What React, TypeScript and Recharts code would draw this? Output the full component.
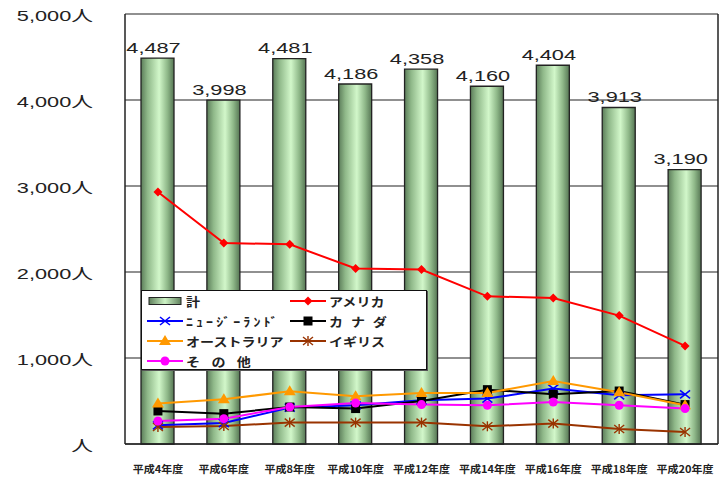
import { ComposedChart, Bar, Line, XAxis, YAxis, CartesianGrid, LabelList } from 'recharts';

const years = ['平成4年度', '平成6年度', '平成8年度', '平成10年度', '平成12年度', '平成14年度', '平成16年度', '平成18年度', '平成20年度'];
const total = [4487, 3998, 4481, 4186, 4358, 4160, 4404, 3913, 3190];
const america = [2930, 2337, 2322, 2040, 2028, 1717, 1698, 1493, 1140];
const newZealand = [217, 244, 423, 450, 508, 528, 644, 566, 578];
const canada = [384, 353, 430, 412, 500, 632, 578, 616, 458];
const australia = [470, 520, 613, 555, 593, 593, 733, 601, 450];
const uk = [198, 209, 249, 249, 249, 206, 237, 174, 140];
const others = [267, 295, 430, 477, 458, 450, 488, 450, 412];
const yTicks = [0, 1000, 2000, 3000, 4000, 5000];
const boundaryTicks = [1, 2, 3, 4, 5, 6, 7, 8];

const data = years.map((year, i) => ({
  year,
  total: total[i],
  america: america[i],
  newZealand: newZealand[i],
  canada: canada[i],
  australia: australia[i],
  uk: uk[i],
  others: others[i],
}));

const FONT = "'Liberation Sans', Arial, 'Noto Sans CJK JP', sans-serif";
const JP = "'Noto Sans CJK JP', 'Liberation Sans', sans-serif";

type Shape = 'bar' | 'diamond' | 'x' | 'square' | 'triangle' | 'star' | 'circle';

// draws one marker centred on (cx, cy)
const marker = (shape: Shape, cx: number, cy: number, color: string, key?: any) => {
  switch (shape) {
    case 'diamond':
      return <polygon key={key} points={`${cx},${cy - 4.5} ${cx + 4.5},${cy} ${cx},${cy + 4.5} ${cx - 4.5},${cy}`} fill={color} />;
    case 'x':
      return (
        <g key={key} stroke={color} strokeWidth={1.6}>
          <line x1={cx - 5} y1={cy - 4} x2={cx + 5} y2={cy + 4} />
          <line x1={cx - 5} y1={cy + 4} x2={cx + 5} y2={cy - 4} />
        </g>
      );
    case 'square':
      return <rect key={key} x={cx - 4.5} y={cy - 4.5} width={9} height={9} fill={color} />;
    case 'triangle':
      return <polygon key={key} points={`${cx},${cy - 6} ${cx + 6},${cy + 4} ${cx - 6},${cy + 4}`} fill={color} />;
    case 'star':
      return (
        <g key={key} stroke={color} strokeWidth={1.4}>
          <line x1={cx - 5} y1={cy - 4} x2={cx + 5} y2={cy + 4} />
          <line x1={cx - 5} y1={cy + 4} x2={cx + 5} y2={cy - 4} />
          <line x1={cx} y1={cy - 5} x2={cx} y2={cy + 5} />
        </g>
      );
    case 'circle':
      return <circle key={key} cx={cx} cy={cy} r={4.5} fill={color} />;
    default:
      return null;
  }
};

const series: { key: string; name: string; color: string; shape: Shape; spacing?: number }[] = [
  { key: 'total', name: '計', color: '#222', shape: 'bar' },
  { key: 'america', name: 'アメリカ', color: '#ff0000', shape: 'diamond' },
  { key: 'newZealand', name: 'ﾆｭｰｼﾞｰﾗﾝﾄﾞ', color: '#0000ff', shape: 'x', spacing: 2.6 },
  { key: 'canada', name: 'カ ナ ダ', color: '#000000', shape: 'square', spacing: 2 },
  { key: 'australia', name: 'オーストラリア', color: '#ff9900', shape: 'triangle' },
  { key: 'uk', name: 'イギリス', color: '#993300', shape: 'star' },
  { key: 'others', name: 'そ の 他', color: '#ff00ff', shape: 'circle', spacing: 3.5 },
];

const YTick = (props: any) => {
  const { x, y, payload } = props;
  const v = payload.value as number;
  const label = v === 0 ? '人' : `${v.toLocaleString('en-US')}人`;
  return (
    <text transform={`translate(${x},${y}) scale(1.45,1)`} textAnchor="end" dy="0.45em" fontSize={15} fill="#222" fontFamily={FONT}>
      {label}
    </text>
  );
};

const XTick = (props: any) => {
  const { x, y, payload } = props;
  return (
    <text transform={`translate(${x},${y}) scale(1.1,1)`} textAnchor="middle" dy={7} fontSize={10} fontWeight="bold" fill="#222" fontFamily={JP}>
      {payload.value}
    </text>
  );
};

const BarLabel = (props: any) => {
  const { x, y, width, value } = props;
  return (
    <text transform={`translate(${x + width / 2 - 4},${y - 5.5}) scale(1.45,1)`} textAnchor="middle" fontSize={15} fill="#222" fontFamily={FONT}>
      {Number(value).toLocaleString('en-US')}
    </text>
  );
};

const LegendIcon = ({ shape, color }: { shape: Shape; color: string }) => (
  <svg width={36} height={14} style={{ display: 'block' }}>
    {shape === 'bar' ? (
      <rect x={2} y={3.5} width={32} height={7} fill="url(#legendGrad)" stroke="#222" strokeWidth={1} />
    ) : (
      <>
        <line x1={0} y1={7} x2={36} y2={7} stroke={color} strokeWidth={2} />
        {marker(shape, 18, 7, color)}
      </>
    )}
    <defs>
      <linearGradient id="legendGrad" x1="0" y1="0" x2="1" y2="0">
        <stop offset="0%" stopColor="#5f805c" />
        <stop offset="50%" stopColor="#cdf3c5" />
        <stop offset="100%" stopColor="#5f805c" />
      </linearGradient>
    </defs>
  </svg>
);

export default function App() {
  return (
    <div style={{ position: 'absolute', left: 0, top: 0, width: 727, height: 479, background: '#fff' }}>
      <ComposedChart width={727} height={479} data={data} margin={{ top: 14, right: 8, bottom: 34, left: 0 }}>
        <defs>
          <linearGradient id="barGrad" x1="0" y1="0" x2="1" y2="0">
            <stop offset="0%" stopColor="#5c7d5a" />
            <stop offset="20%" stopColor="#8fb889" />
            <stop offset="55%" stopColor="#d2f7ca" />
            <stop offset="80%" stopColor="#8fb889" />
            <stop offset="100%" stopColor="#567654" />
          </linearGradient>
        </defs>
        <CartesianGrid xAxisId="c" yAxisId="l" vertical={false} stroke="#222" strokeWidth={1.2} />
        <XAxis
          xAxisId="c"
          dataKey="year"
          height={1}
          interval={0}
          tickSize={0}
          tickMargin={22}
          tickLine={false}
          axisLine={{ stroke: '#222', strokeWidth: 1.5 }}
          tick={<XTick />}
        />
        <XAxis
          xAxisId="b"
          type="number"
          domain={[0, 9]}
          ticks={boundaryTicks}
          allowDataOverflow
          height={1}
          mirror
          axisLine={false}
          tick={false}
          tickSize={4}
          tickLine={{ stroke: '#222', strokeWidth: 1.2 }}
        />
        <YAxis
          yAxisId="l"
          width={125}
          domain={[0, 5000]}
          ticks={yTicks}
          tickSize={0}
          tickMargin={32}
          tickLine={false}
          axisLine={{ stroke: '#222', strokeWidth: 1.5 }}
          tick={<YTick />}
        />
        <YAxis
          yAxisId="r"
          orientation="right"
          width={1}
          domain={[0, 5000]}
          tick={false}
          tickLine={false}
          axisLine={{ stroke: '#222', strokeWidth: 1.5 }}
        />
        <Bar xAxisId="c" yAxisId="l" dataKey="total" barSize={33} fill="url(#barGrad)" stroke="#222" strokeWidth={1.3} isAnimationActive={false}>
          <LabelList dataKey="total" content={<BarLabel />} />
        </Bar>
        {series
          .filter((s) => s.shape !== 'bar')
          .map((s) => (
            <Line
              key={s.key}
              xAxisId="c"
              yAxisId="l"
              type="linear"
              dataKey={s.key}
              stroke={s.color}
              strokeWidth={2}
              dot={(p: any) => marker(s.shape, p.cx, p.cy, s.color, `${s.key}-${p.index}`)}
              activeDot={false}
              isAnimationActive={false}
            />
          ))}
      </ComposedChart>
      <div
        style={{
          position: 'absolute',
          left: 141,
          top: 290,
          width: 286,
          height: 80,
          border: '1px solid #111',
          boxShadow: '1px 1px 0 #555',
          background: '#fff',
          display: 'grid',
          gridTemplateColumns: '143px 143px',
          gridAutoRows: '20px',
          paddingLeft: 5,
          boxSizing: 'border-box',
        }}
      >
        {series.map((s) => (
          <div key={s.key} style={{ display: 'flex', alignItems: 'center', height: 20 }}>
            <LegendIcon shape={s.shape} color={s.color} />
            <span
              style={{
                marginLeft: 3,
                fontFamily: JP,
                fontWeight: 'bold',
                fontSize: 12,
                color: '#222',
                whiteSpace: 'pre',
                display: 'inline-block',
                transform: 'scaleX(1.17)',
                transformOrigin: 'left center',
                letterSpacing: s.spacing ?? 0,
              }}
            >
              {s.name}
            </span>
          </div>
        ))}
      </div>
    </div>
  );
}
